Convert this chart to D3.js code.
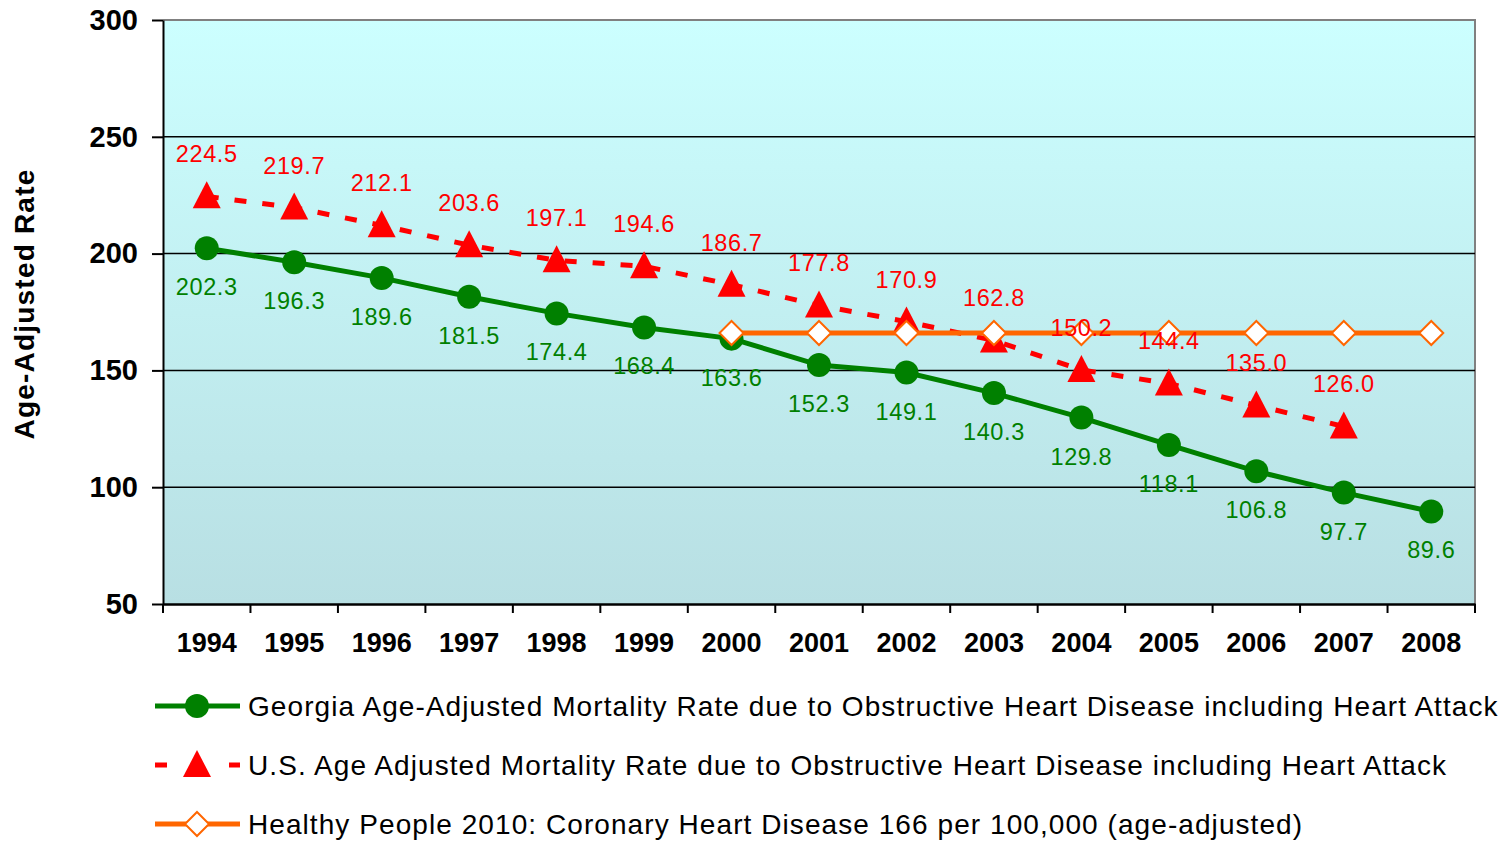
<!DOCTYPE html>
<html>
<head>
<meta charset="utf-8">
<script src="https://cdn.jsdelivr.net/npm/d3@7"></script>
<style>
  body { margin: 0; background: #fff; }
  svg { font-family: Arial, "Liberation Sans", sans-serif; }
</style>
</head>
<body>
<svg id="chart" width="1505" height="842"></svg>
<script>
// chart data
var years = ["1994", "1995", "1996", "1997", "1998", "1999", "2000", "2001", "2002", "2003", "2004", "2005", "2006", "2007", "2008"];
var georgia = [202.3, 196.3, 189.6, 181.5, 174.4, 168.4, 163.6, 152.3, 149.1, 140.3, 129.8, 118.1, 106.8, 97.7, 89.6];
var usRate = [224.5, 219.7, 212.1, 203.6, 197.1, 194.6, 186.7, 177.8, 170.9, 162.8, 150.2, 144.4, 135.0, 126.0];
var healthyYears = ["2000", "2001", "2002", "2003", "2004", "2005", "2006", "2007", "2008"];
var healthyTarget = [166, 166, 166, 166, 166, 166, 166, 166, 166];
var yTicks = [50, 100, 150, 200, 250, 300];
var legendLabels = [
  "Georgia Age-Adjusted Mortality Rate due to Obstructive Heart Disease including Heart Attack",
  "U.S. Age Adjusted Mortality Rate due to Obstructive Heart Disease including Heart Attack",
  "Healthy People 2010: Coronary Heart Disease 166 per 100,000 (age-adjusted)"
];

var GREEN = "#008000", RED = "#ff0000", ORANGE = "#ff6600";
var FONT = "Arial, 'Liberation Sans', sans-serif";
var svg = d3.select("#chart");
var plotL = 163, plotR = 1475, plotT = 20, plotB = 604;

var x = d3.scaleBand().domain(years).range([plotL, plotR]);
var y = d3.scaleLinear().domain([50, 300]).range([plotB, plotT]);
var cx = function (yr) { return x(yr) + x.bandwidth() / 2; };

// background gradient
var grad = svg.append("defs").append("linearGradient")
  .attr("id", "bg").attr("x1", 0).attr("y1", 0).attr("x2", 0).attr("y2", 1);
grad.append("stop").attr("offset", "0%").attr("stop-color", "#ccffff");
grad.append("stop").attr("offset", "100%").attr("stop-color", "#b8dfe3");

svg.append("rect")
  .attr("x", plotL).attr("y", plotT)
  .attr("width", plotR - plotL).attr("height", plotB - plotT)
  .attr("fill", "url(#bg)");

// outer border (top/right grey)
svg.append("path")
  .attr("d", "M" + plotL + "," + plotT + "H" + plotR + "V" + plotB)
  .attr("fill", "none").attr("stroke", "#808080").attr("stroke-width", 2);

// gridlines
svg.append("g").selectAll("line")
  .data(yTicks.filter(function (t) { return t > 50 && t < 300; }))
  .join("line")
  .attr("x1", plotL).attr("x2", plotR)
  .attr("y1", function (d) { return y(d); }).attr("y2", function (d) { return y(d); })
  .attr("stroke", "#000").attr("stroke-width", 1.5);

// y axis
var yAxis = svg.append("g")
  .attr("transform", "translate(" + plotL + ",0)")
  .call(d3.axisLeft(y).tickValues(yTicks).tickSize(11).tickSizeOuter(0).tickPadding(14));
yAxis.select(".domain").attr("stroke", "#000").attr("stroke-width", 2);
yAxis.selectAll(".tick line").attr("stroke", "#000").attr("stroke-width", 2);
yAxis.selectAll(".tick text")
  .attr("font-size", 29).attr("font-weight", "bold").attr("fill", "#000")
  .attr("font-family", FONT);

// x axis
var xAxis = svg.append("g")
  .attr("transform", "translate(0," + plotB + ")")
  .call(d3.axisBottom(x).tickSize(0).tickPadding(29));
xAxis.select(".domain").attr("stroke", "#000").attr("stroke-width", 2.5);
xAxis.selectAll(".tick text")
  .attr("font-size", 27).attr("font-weight", "bold").attr("fill", "#000")
  .attr("font-family", FONT);
// tick marks at band boundaries
xAxis.append("g").selectAll("line")
  .data(years.concat(["end"]))
  .join("line")
  .attr("x1", function (d, i) { return plotL + i * x.step(); })
  .attr("x2", function (d, i) { return plotL + i * x.step(); })
  .attr("y1", 0).attr("y2", 9)
  .attr("stroke", "#000").attr("stroke-width", 2);

// y axis title
svg.append("text")
  .attr("transform", "translate(34,304) rotate(-90)")
  .attr("text-anchor", "middle")
  .attr("font-size", 28).attr("font-weight", "bold").attr("letter-spacing", 1.2)
  .text("Age-Adjusted Rate");

// marker helpers
function circleMark(g, px, py) {
  g.append("circle").attr("cx", px).attr("cy", py).attr("r", 12).attr("fill", GREEN);
}
function triMark(g, px, py) {
  g.append("path")
    .attr("d", "M" + px + "," + (py - 15) + "L" + (px + 14) + "," + (py + 12) + "L" + (px - 14) + "," + (py + 12) + "Z")
    .attr("fill", RED);
}
function diamondMark(g, px, py) {
  g.append("path")
    .attr("d", "M" + px + "," + (py - 12) + "L" + (px + 12) + "," + py + "L" + px + "," + (py + 12) + "L" + (px - 12) + "," + py + "Z")
    .attr("fill", "#fff").attr("stroke", ORANGE).attr("stroke-width", 2);
}

var line = d3.line();

// Georgia series
var gPts = georgia.map(function (v, i) { return [cx(years[i]), y(v)]; });
svg.append("path").attr("d", line(gPts))
  .attr("fill", "none").attr("stroke", GREEN).attr("stroke-width", 5);
var gMarks = svg.append("g");
gPts.forEach(function (p) { circleMark(gMarks, p[0], p[1]); });

// US series
var uPts = usRate.map(function (v, i) { return [cx(years[i]), y(v)]; });
svg.append("path").attr("d", line(uPts))
  .attr("fill", "none").attr("stroke", RED).attr("stroke-width", 5)
  .attr("stroke-dasharray", "12,16");
var uMarks = svg.append("g");
uPts.forEach(function (p) { triMark(uMarks, p[0], p[1]); });

// Healthy People target
var hPts = healthyTarget.map(function (v, i) { return [cx(healthyYears[i]), y(v)]; });
svg.append("path").attr("d", line(hPts))
  .attr("fill", "none").attr("stroke", ORANGE).attr("stroke-width", 5);
var hMarks = svg.append("g");
hPts.forEach(function (p) { diamondMark(hMarks, p[0], p[1]); });

// data labels
svg.append("g").selectAll("text").data(georgia).join("text")
  .attr("x", function (d, i) { return cx(years[i]); })
  .attr("y", function (d) { return y(d) + 47; })
  .attr("text-anchor", "middle").attr("font-size", 23.5).attr("letter-spacing", 0.6)
  .attr("fill", GREEN)
  .text(function (d) { return d.toFixed(1); });

svg.append("g").selectAll("text").data(usRate).join("text")
  .attr("x", function (d, i) { return cx(years[i]); })
  .attr("y", function (d) { return y(d) - 34; })
  .attr("text-anchor", "middle").attr("font-size", 23.5).attr("letter-spacing", 0.6)
  .attr("fill", RED)
  .text(function (d) { return d.toFixed(1); });

// legend
var legend = svg.append("g");
var rowY = [706, 765, 824];
legendLabels.forEach(function (lbl, i) {
  var ly = rowY[i];
  var row = legend.append("g");
  if (i === 0) {
    row.append("line").attr("x1", 155).attr("x2", 240).attr("y1", ly).attr("y2", ly)
      .attr("stroke", GREEN).attr("stroke-width", 5);
    circleMark(row, 197, ly);
  } else if (i === 1) {
    row.append("line").attr("x1", 155).attr("x2", 240).attr("y1", ly).attr("y2", ly)
      .attr("stroke", RED).attr("stroke-width", 5).attr("stroke-dasharray", "12,62");
    triMark(row, 197, ly);
  } else {
    row.append("line").attr("x1", 155).attr("x2", 240).attr("y1", ly).attr("y2", ly)
      .attr("stroke", ORANGE).attr("stroke-width", 5);
    diamondMark(row, 197, ly);
  }
  row.append("text").attr("x", 248).attr("y", ly).attr("dy", "0.35em")
    .attr("font-size", 28).attr("letter-spacing", 1.07).attr("fill", "#000").text(lbl);
});
</script>
</body>
</html>
